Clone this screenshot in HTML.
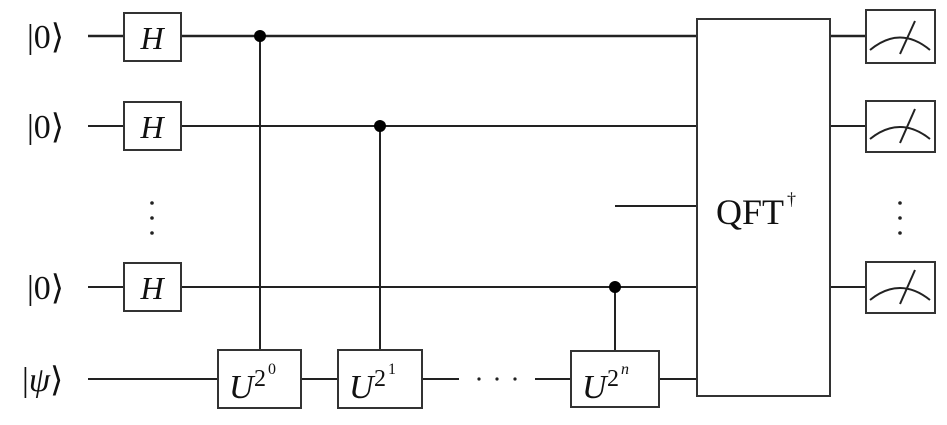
<!DOCTYPE html>
<html><head><style>
html,body{margin:0;padding:0;background:#fff;}
svg{display:block;}
text{font-family:"Liberation Serif",serif;fill:#111;}
</style></head><body>
<svg width="947" height="425" viewBox="0 0 947 425" xmlns="http://www.w3.org/2000/svg">
<g stroke="#222" stroke-width="2" fill="none">
<line x1="88" y1="36" x2="697" y2="36" stroke-width="2.5"/>
<line x1="88" y1="126" x2="697" y2="126"/>
<line x1="88" y1="287" x2="697" y2="287"/>
<line x1="88" y1="379" x2="218" y2="379"/>
<line x1="301" y1="379" x2="338" y2="379"/>
<line x1="422" y1="379" x2="459" y2="379"/>
<line x1="535" y1="379" x2="571" y2="379"/>
<line x1="659" y1="379" x2="697" y2="379"/>
<line x1="615" y1="206" x2="697" y2="206"/>
<line x1="830" y1="36" x2="866" y2="36" stroke-width="2.5"/>
<line x1="830" y1="126" x2="866" y2="126"/>
<line x1="830" y1="287" x2="866" y2="287"/>
<line x1="260" y1="36" x2="260" y2="350"/>
<line x1="380" y1="126" x2="380" y2="350"/>
<line x1="615" y1="287" x2="615" y2="351"/>
</g>
<g fill="#000">
<circle cx="260" cy="36" r="6"/>
<circle cx="380" cy="126" r="6"/>
<circle cx="615" cy="287" r="6"/>
</g>
<g stroke="#333" stroke-width="2" fill="#fff">
<rect x="124" y="13" width="57" height="48"/>
<rect x="124" y="102" width="57" height="48"/>
<rect x="124" y="263" width="57" height="48"/>
<rect x="218" y="350" width="83" height="58"/>
<rect x="338" y="350" width="84" height="58"/>
<rect x="571" y="351" width="88" height="56"/>
<rect x="697" y="19" width="133" height="377"/>
<rect x="866" y="10" width="69" height="53"/>
<rect x="866" y="101" width="69" height="51"/>
<rect x="866" y="262" width="69" height="51"/>
</g>
<g stroke="#222" stroke-width="2" fill="none">
<path d="M870 50 Q900 25 930 50"/><line x1="900" y1="54" x2="915" y2="21"/>
<path d="M870 139 Q900 115 930 139"/><line x1="900" y1="143" x2="915" y2="109"/>
<path d="M870 300 Q900 276 930 300"/><line x1="900" y1="304" x2="915" y2="270"/>
</g>
<g font-size="34">
<text x="27" y="48">|0⟩</text>
<text x="27" y="138">|0⟩</text>
<text x="27" y="299">|0⟩</text>
<text x="22" y="391">|<tspan font-style="italic">ψ</tspan>⟩</text>
</g>
<g font-size="32" font-style="italic" text-anchor="middle">
<text x="152" y="49">H</text>
<text x="152" y="138">H</text>
<text x="152" y="299">H</text>
</g>
<text x="229" y="398" font-size="34" font-style="italic">U</text><text x="254" y="386" font-size="24">2</text><text x="268" y="374" font-size="16">0</text>
<text x="349" y="398" font-size="34" font-style="italic">U</text><text x="374" y="386" font-size="24">2</text><text x="388" y="374" font-size="16">1</text>
<text x="582" y="398" font-size="34" font-style="italic">U</text><text x="607" y="386" font-size="24">2</text><text x="621" y="374" font-size="16" font-style="italic">n</text>
<text x="716" y="224" font-size="36">QFT</text><text x="787" y="205" font-size="18">†</text>
<g fill="#222">
<circle cx="152" cy="203" r="1.8"/><circle cx="152" cy="218" r="1.8"/><circle cx="152" cy="233" r="1.8"/>
<circle cx="900" cy="203" r="1.8"/><circle cx="900" cy="218" r="1.8"/><circle cx="900" cy="233" r="1.8"/>
<circle cx="479" cy="379" r="1.6"/><circle cx="497" cy="379" r="1.6"/><circle cx="515" cy="379" r="1.6"/>
</g>
</svg>
</body></html>
